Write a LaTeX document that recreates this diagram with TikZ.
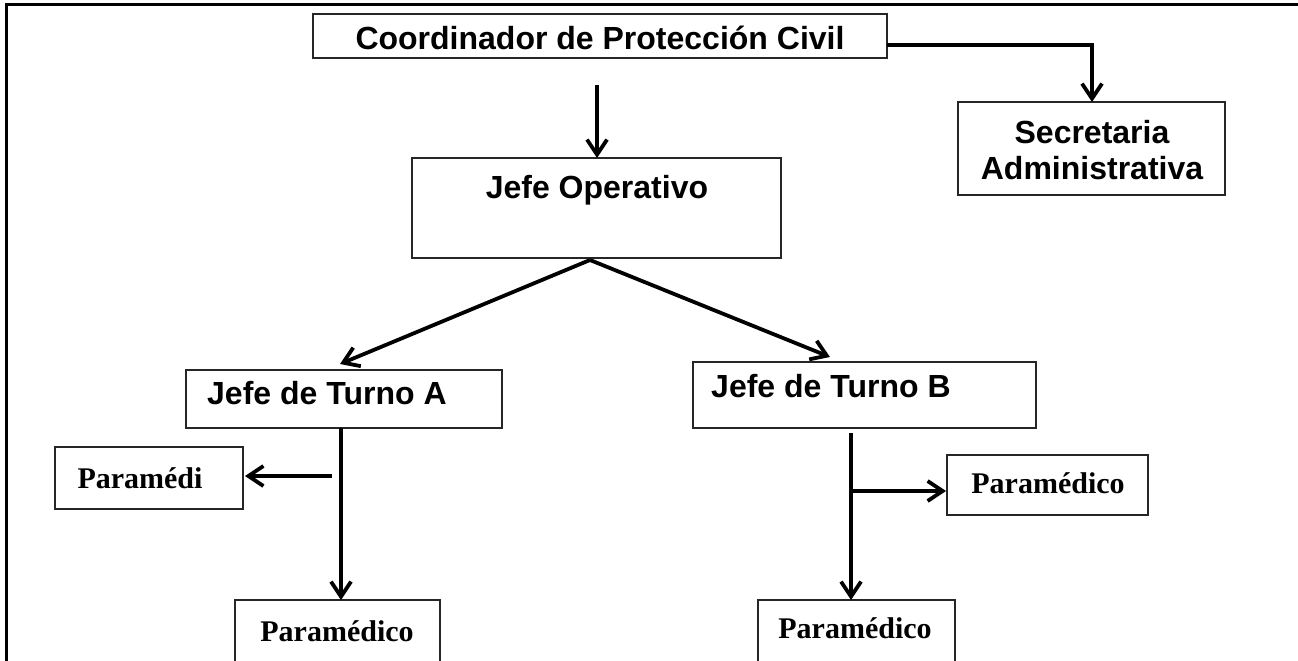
\documentclass[tikz,border=0pt]{standalone}
\usepackage{fontspec}
\setmainfont{Liberation Sans}
\newfontfamily\serifb{Liberation Serif}
\usetikzlibrary{arrows.meta}
\begin{document}
\begin{tikzpicture}[x=1pt,y=-1pt,
  box/.style={draw=black!85, line width=1.3pt, inner sep=0pt},
  conn/.style={line width=3.8pt, -{Straight Barb[length=15pt,width=20pt,line width=3.8pt]}},
  lbl/.style={font=\fontsize{32}{36}\selectfont\bfseries, inner sep=0pt, anchor=center},
  lbll/.style={font=\fontsize{32}{36}\selectfont\bfseries, inner sep=0pt, anchor=west},
  serl/.style={font=\serifb\fontsize{30}{34}\selectfont\bfseries, inner sep=0pt, anchor=center}]
\useasboundingbox (0,0) rectangle (1298,661);
\clip (0,0) rectangle (1298,661);
% frame
\draw[line width=3pt] (6,700) -- (6,5) -- (1300,5);
% boxes
\draw[box] (313,14) rectangle (887,58);
\node[lbl] (coord) at (600,38) {Coordinador de Protección Civil};
\coordinate (coordE) at (887,45);
\coordinate (coordS) at (597,85);

\draw[box] (412,158) rectangle (781,258);
\node[lbl] (jo) at (597,190) {Jefe Operativo};
\coordinate (joN) at (597,158);
\coordinate (joS) at (590,260);

\draw[box] (958,102) rectangle (1225,195);
\node[lbl, align=center, font=\fontsize{32}{36}\selectfont\bfseries] (sec) at (1092,150) {Secretaria\\Administrativa};
\coordinate (secN) at (1092,102);

\draw[box] (186,370) rectangle (502,428);
\node[lbll] (ta) at (207,393) {Jefe de Turno A};
\coordinate (taN) at (340,364);
\coordinate (taS) at (341,428);

\draw[box] (693,362) rectangle (1036,428);
\node[lbll] (tb) at (711,386) {Jefe de Turno B};
\coordinate (tbN) at (830,357);
\coordinate (tbS) at (851,433);

\draw[box] (55,447) rectangle (243,509);
\node[serl] (pa1) at (140,478) {Paramédi};
\coordinate (pa1E) at (245,476);
\coordinate (aMid) at (332,476);

\draw[box] (235,600) rectangle (440,700);
\node[serl] (pa2) at (337,631) {Paramédico};
\coordinate (pa2N) at (341,600);

\draw[box] (947,455) rectangle (1148,515);
\node[serl] (pb1) at (1048,483) {Paramédico};
\coordinate (pb1W) at (946,491);
\coordinate (bMid) at (851,491);

\draw[box] (758,600) rectangle (955,700);
\node[serl] (pb2) at (855,628) {Paramédico};
\coordinate (pb2N) at (851,600);

% connectors
\draw[conn] (coordS) -- (joN);
\draw[conn] (coordE) -| (secN);
\draw[conn] (joS) -- (taN);
\draw[conn] (joS) -- (tbN);
\draw[conn] (taS) -- (pa2N);
\draw[conn] (aMid) -- (pa1E);
\draw[conn] (tbS) -- (pb2N);
\draw[conn] (bMid) -- (pb1W);
\end{tikzpicture}
\end{document}
